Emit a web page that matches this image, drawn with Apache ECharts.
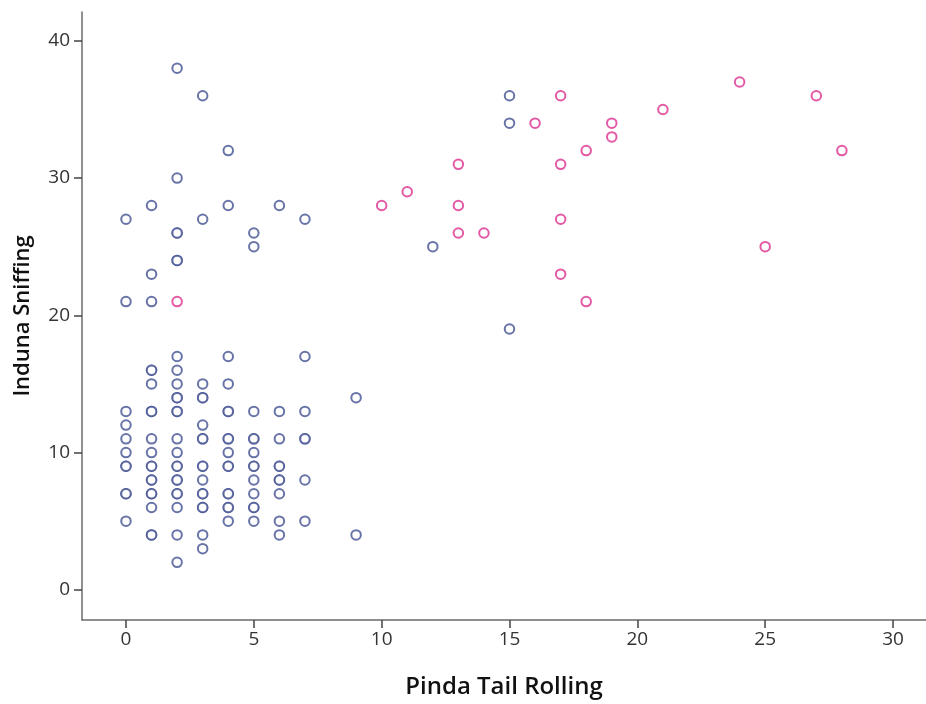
<!DOCTYPE html>
<html>
<head>
<meta charset="utf-8">
<script src="https://cdn.jsdelivr.net/npm/echarts@6/dist/echarts.min.js"></script>
<style>
  html, body { margin: 0; padding: 0; background: #fff; }
  #chart { width: 926px; height: 704px; }
</style>
</head>
<body>
<div id="chart"></div>
<script>
// Tick values shown on each axis
const xTicks = [0, 5, 10, 15, 20, 25, 30];
const yTicks = [0, 10, 20, 30, 40];

// Group 1 (blue) observations: Pinda Tail Rolling vs Induna Sniffing
const blueX = [
  2, 3, 4, 2, 1, 4, 6, 0, 3, 7, 2, 2, 5, 5, 2, 2, 1, 0, 1,
  2, 4, 7,
  1, 1, 2,
  1, 2, 3, 4,
  2, 2, 3, 3, 9,
  0, 1, 1, 2, 2, 4, 4, 5, 6, 7,
  0, 3,
  0, 1, 2, 3, 3, 4, 4, 5, 5, 6, 7, 7,
  0, 1, 2, 4, 5,
  0, 0, 1, 1, 2, 2, 3, 3, 4, 4, 5, 5, 6, 6,
  1, 1, 2, 2, 3, 5, 6, 6, 7,
  0, 0, 1, 1, 2, 2, 3, 3, 4, 4, 5, 6,
  1, 2, 3, 3, 4, 4, 5, 5,
  0, 4, 5, 6, 7,
  1, 1, 2, 3, 6, 9,
  3,
  2,
  15, 15, 12, 15
];
const blueY = [
  38, 36, 32, 30, 28, 28, 28, 27, 27, 27, 26, 26, 26, 25, 24, 24, 23, 21, 21,
  17, 17, 17,
  16, 16, 16,
  15, 15, 15, 15,
  14, 14, 14, 14, 14,
  13, 13, 13, 13, 13, 13, 13, 13, 13, 13,
  12, 12,
  11, 11, 11, 11, 11, 11, 11, 11, 11, 11, 11, 11,
  10, 10, 10, 10, 10,
  9, 9, 9, 9, 9, 9, 9, 9, 9, 9, 9, 9, 9, 9,
  8, 8, 8, 8, 8, 8, 8, 8, 8,
  7, 7, 7, 7, 7, 7, 7, 7, 7, 7, 7, 7,
  6, 6, 6, 6, 6, 6, 6, 6,
  5, 5, 5, 5, 5,
  4, 4, 4, 4, 4, 4,
  3,
  2,
  36, 34, 25, 19
];

// Group 2 (pink) observations
const pinkX = [2, 10, 11, 13, 13, 13, 14, 16, 17, 17, 17, 17, 18, 18, 19, 19, 21, 24, 25, 27, 28];
const pinkY = [21, 28, 29, 31, 28, 26, 26, 34, 36, 31, 27, 23, 32, 21, 34, 33, 35, 37, 25, 36, 32];

const zip = (xs, ys) => xs.map((x, i) => [x, ys[i]]);

const FONT = '"Open Sans", "Noto Sans", sans-serif';
const axisColor = '#6b6b6b';
const textColor = '#333333';

const chart = echarts.init(document.getElementById('chart'), null, { renderer: 'canvas' });

chart.setOption({
  animation: false,
  backgroundColor: '#ffffff',
  grid: { left: 82, right: 0, top: 12, bottom: 84, containLabel: false },
  xAxis: {
    type: 'value',
    min: -1.72,
    max: 31.29,
    name: 'Pinda Tail Rolling',
    nameLocation: 'middle',
    nameGap: 55,
    nameTextStyle: { fontFamily: FONT, fontSize: 24, fontWeight: 600, color: '#111' },
    splitLine: { show: false },
    axisLine: { show: true, onZero: false, lineStyle: { color: axisColor, width: 1.5 } },
    axisTick: { show: true, inside: false, length: 8, customValues: xTicks, lineStyle: { color: '#444', width: 1.5 } },
    axisLabel: { customValues: xTicks, margin: 10, fontFamily: FONT, fontSize: 19, color: textColor }
  },
  yAxis: {
    type: 'value',
    min: -2.2,
    max: 42.1,
    name: 'Induna Sniffing',
    nameLocation: 'middle',
    nameGap: 48,
    nameTextStyle: { fontFamily: FONT, fontSize: 22, fontWeight: 600, color: '#111' },
    splitLine: { show: false },
    axisLine: { show: true, onZero: false, lineStyle: { color: axisColor, width: 1.5 } },
    axisTick: { show: true, length: 8, customValues: yTicks, lineStyle: { color: '#444', width: 1.5 } },
    axisLabel: { customValues: yTicks, margin: 12, fontFamily: FONT, fontSize: 19, color: textColor }
  },
  series: [
    {
      name: 'group1',
      type: 'scatter',
      symbol: 'emptyCircle',
      symbolSize: 9.5,
      itemStyle: { color: '#4e5a98', borderWidth: 1.5, opacity: 0.85 },
      data: zip(blueX, blueY)
    },
    {
      name: 'group2',
      type: 'scatter',
      symbol: 'emptyCircle',
      symbolSize: 9.5,
      itemStyle: { color: '#dc2f8e', borderWidth: 1.5 },
      data: zip(pinkX, pinkY)
    }
  ]
});
</script>
</body>
</html>
